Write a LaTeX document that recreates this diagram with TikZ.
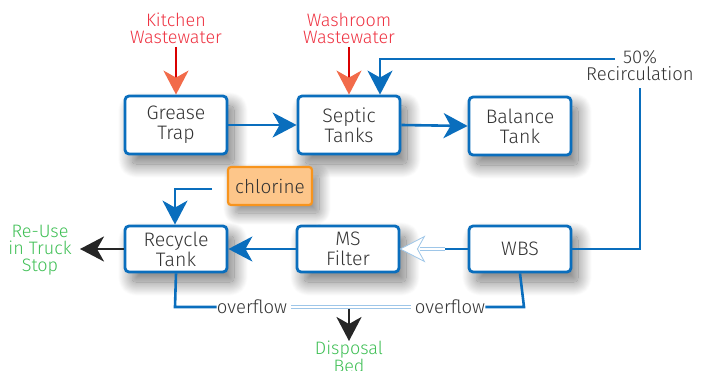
\documentclass[tikz,border=0pt]{standalone}
\usepackage{fontspec}
\setmainfont{Fira Sans Light}
\usetikzlibrary{arrows.meta,shadows.blur,positioning}
\definecolor{bblue}{HTML}{0A6EBD}
\definecolor{lblue}{HTML}{9EC6E8}
\definecolor{tgray}{HTML}{333333}
\definecolor{rtext}{HTML}{EE3342}
\definecolor{rhead}{HTML}{F26B4A}
\definecolor{gtext}{HTML}{3FBF55}
\definecolor{ofill}{HTML}{FDC68A}
\definecolor{oline}{HTML}{F7941D}
\begin{document}
\begin{tikzpicture}[x=1pt,y=-1pt,
  procbox/.style={draw=bblue,line width=2.8pt,rounded corners=4pt,fill=white,
    minimum width=102pt,minimum height=58pt,align=center,text=tgray,
    font=\fontsize{19.5}{20}\selectfont,inner sep=0pt,
    blur shadow={shadow xshift=7pt,shadow yshift=-10pt,shadow blur radius=14pt,shadow blur steps=30,shadow opacity=55}},
  lowbox/.style={procbox,minimum height=46pt},
  srclabel/.style={align=center,text=rtext,font=\fontsize{18}{17}\selectfont,inner sep=0pt},
  outlabel/.style={align=center,text=gtext,font=\fontsize{18}{17}\selectfont,inner sep=0pt},
  plabel/.style={align=center,text=tgray,font=\fontsize{18.5}{17}\selectfont,inner sep=0pt},
  flow/.style={draw=bblue,line width=2.6pt,-{Stealth[length=24pt,width=25pt,inset=7pt,bblue]}},
  flowline/.style={draw=bblue,line width=2.6pt},
  redflow/.style={draw=red!85!black,line width=2.6pt,-{Stealth[length=24pt,width=25pt,inset=7pt,rhead]}},
  blackflow/.style={draw=black!85,line width=2.6pt,-{Stealth[length=24pt,width=25pt,inset=7pt]}},
  faint/.style={draw=lblue,double=white,line width=0.9pt,double distance=1.8pt}
]
\useasboundingbox (0,0) rectangle (707,371);
% boxes
\node[procbox] (grease) at (176,125) {Grease\\Trap};
\node[procbox] (septic) at (349,125) {Septic\\Tanks};
\node[procbox] (balance) at (520,126) {Balance\\Tank};
\node[lowbox] (recycle) at (176,249) {Recycle\\Tank};
\node[lowbox] (ms) at (348,249) {MS\\Filter};
\node[lowbox] (wbs) at (520,249) {WBS};
\node[draw=oline,fill=ofill,line width=2.2pt,rounded corners=3pt,minimum width=84pt,minimum height=38pt,
  text=tgray,font=\fontsize{19}{19}\selectfont,inner sep=0pt,
  blur shadow={shadow xshift=7pt,shadow yshift=-8pt,shadow blur radius=12pt,shadow blur steps=30,shadow opacity=50}] (chl) at (270,186) {chlorine};
% labels
\node[srclabel] (kitchen) at (176,28) {Kitchen\\Wastewater};
\node[srclabel] (washroom) at (349,28) {Washroom\\Wastewater};
\node[plabel] (recirc) at (640,66) {50\%\\Recirculation};
\node[outlabel] (reuse) at (40,250) {Re-Use\\in Truck\\Stop};
\node[outlabel,anchor=north] (disposal) at (349,341) {Disposal\\Bed};
\node[plabel] (of1) at (252,307) {overflow};
\node[plabel] (of2) at (450,307) {overflow};
% coordinates
\coordinate (kstart) at (176,47);
\coordinate (wstart) at (349,47);
\coordinate (rcR) at (640,249);
\coordinate (rcT) at (640,88);
\coordinate (rcL) at (615,59);
\coordinate (rcC) at (380,59);
\coordinate (chlC) at (175,189);
\coordinate (chlS) at (212,189);
\coordinate (reuseE) at (80,249);
\coordinate (ofL) at (175,307);
\coordinate (ofR) at (524,307);
\coordinate (dispS) at (349,309);
\coordinate (wbsM) at (445,249);
% flows
\draw[redflow] (kstart) -- (grease.north);
\draw[redflow] (wstart) -- (septic.north);
\draw[flow] (grease.east) -- (septic.west);
\draw[flow] (septic.east) -- (balance.west);
\draw[flowline] (wbs.east) -- (rcR) -- (rcT);
\draw[flow] (rcL) -- (rcC) -- (rcC |- septic.north);
\draw[flow] (chlS) -- (chlC) -- (chlC |- recycle.north);
\draw[flow] (ms.west) -- (recycle.east);
\draw[flowline] (wbs.west) -- (wbsM);
\draw[faint] (wbsM) -- ([xshift=20pt]ms.east);
\draw[draw=lblue,fill=white,line width=0.8pt] (ms.east) -- ++(24,-12.5) -- ++(-7,12.5) -- ++(7,12.5) -- cycle;
\draw[blackflow] (recycle.west) -- (reuseE);
\draw[flowline] (recycle.south) -- (ofL) -- (of1.west);
\draw[flowline] (wbs.south) -- (ofR) -- (of2.east);
\draw[faint] ([xshift=4pt]of1.east) -- ([xshift=-4pt]of2.west);
\draw[blackflow] (dispS) -- (disposal.north);
\end{tikzpicture}
\end{document}
